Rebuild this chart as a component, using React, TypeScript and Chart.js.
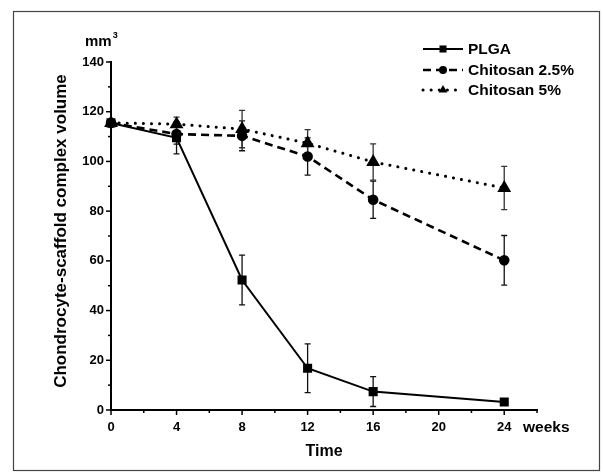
import React, { useEffect, useRef } from 'react';
import { Chart, registerables } from 'chart.js';

Chart.register(...registerables);

const weeks = [0, 4, 8, 12, 16, 24];
const seriesNames = ['PLGA', 'Chitosan 2.5%', 'Chitosan 5%'];
const plga = [115.5, 109.5, 52.3, 16.8, 7.4, 3.2];
const plgaErr = [0, 6.5, 10, 9.8, 6, 0];
const chi25 = [115.5, 111, 110.3, 102, 84.6, 60.2];
const chi25Err = [0, 4, 6, 7.5, 7.5, 10];
const chi5 = [115.5, 115, 113, 107.3, 99.8, 89.3];
const chi5Err = [0, 2.8, 7.5, 5.5, 7.3, 8.7];
const xTickLabels = [0, 4, 8, 12, 16, 20, 24];
const yTickLabels = [0, 20, 40, 60, 80, 100, 120, 140];
const xAxisTitle = 'Time';
const xUnit = 'weeks';
const yAxisTitle = 'Chondrocyte-scaffold complex volume';
const yUnit = 'mm';

const FONT = "'Liberation Sans', Arial, Helvetica, sans-serif";

function drawMarker(ctx: CanvasRenderingContext2D, style: string, x: number, y: number, r: number) {
  ctx.beginPath();
  if (style === 'rect') {
    const s = r * Math.SQRT1_2;
    ctx.rect(x - s, y - s, 2 * s, 2 * s);
  } else if (style === 'triangle') {
    let rad = 0;
    const t = (2 * Math.PI) / 3;
    ctx.moveTo(x + Math.sin(rad) * r, y - Math.cos(rad) * r);
    rad += t;
    ctx.lineTo(x + Math.sin(rad) * r, y - Math.cos(rad) * r);
    rad += t;
    ctx.lineTo(x + Math.sin(rad) * r, y - Math.cos(rad) * r);
    ctx.closePath();
  } else {
    ctx.arc(x, y, r, 0, Math.PI * 2);
  }
  ctx.fill();
}

const errors = [plgaErr, chi25Err, chi5Err];

const decorPlugin = {
  id: 'decor',
  beforeDatasetsDraw(chart: any) {
    const ctx = chart.ctx as CanvasRenderingContext2D;
    const xs = chart.scales.x;
    const ys = chart.scales.y;
    ctx.save();
    chart.data.datasets.forEach((ds: any, di: number) => {
      const err = errors[di];
      ctx.strokeStyle = di === 2 ? '#333' : '#111';
      ctx.lineWidth = 1.3;
      ds.data.forEach((p: any, i: number) => {
        const e = err[i];
        if (!e) return;
        const v = p.y;
        const x = xs.getPixelForValue(p.x);
        const yt = ys.getPixelForValue(v + e);
        const yb = ys.getPixelForValue(v - e);
        ctx.beginPath();
        ctx.moveTo(x, yt);
        ctx.lineTo(x, yb);
        ctx.moveTo(x - 3, yt);
        ctx.lineTo(x + 3, yt);
        ctx.moveTo(x - 3, yb);
        ctx.lineTo(x + 3, yb);
        ctx.stroke();
      });
    });
    ctx.restore();
  },
  afterDraw(chart: any) {
    const ctx = chart.ctx as CanvasRenderingContext2D;
    const xs = chart.scales.x;
    const ys = chart.scales.y;
    const area = chart.chartArea;
    ctx.save();
    ctx.strokeStyle = '#000';
    ctx.lineWidth = 1.5;
    for (let v = 0; v <= 26; v += 2) {
      const x = xs.getPixelForValue(v);
      const len = v % 4 === 0 ? 5 : 3;
      ctx.beginPath();
      ctx.moveTo(x, area.bottom);
      ctx.lineTo(x, area.bottom + len);
      ctx.stroke();
    }
    for (let v = 0; v <= 140; v += 10) {
      const y = ys.getPixelForValue(v);
      const len = v % 20 === 0 ? 5 : 3;
      ctx.beginPath();
      ctx.moveTo(area.left, y);
      ctx.lineTo(area.left - len, y);
      ctx.stroke();
    }
    ctx.fillStyle = '#000';
    ctx.font = `bold 15px ${FONT}`;
    ctx.textAlign = 'left';
    ctx.textBaseline = 'alphabetic';
    ctx.fillText(yUnit, 85, 46);
    const mw = ctx.measureText(yUnit).width;
    ctx.font = `bold 9px ${FONT}`;
    ctx.fillText('3', 85 + mw + 1, 38);
    ctx.font = `bold 15.5px ${FONT}`;
    ctx.textBaseline = 'middle';
    ctx.fillText(xUnit, 523, area.bottom + 18);
    ctx.font = `bold 16px ${FONT}`;
    ctx.textAlign = 'center';
    ctx.fillText(xAxisTitle, (area.left + area.right) / 2, 452);
    ctx.save();
    ctx.translate(61, 231);
    ctx.rotate(-Math.PI / 2);
    ctx.font = `bold 17px ${FONT}`;
    ctx.fillText(yAxisTitle, 0, 0);
    ctx.restore();
    const rows = [49, 70, 90];
    chart.data.datasets.forEach((ds: any, i: number) => {
      const y = rows[i];
      ctx.save();
      ctx.strokeStyle = '#000';
      ctx.lineWidth = ds.borderWidth;
      ctx.setLineDash(ds.borderDash || []);
      ctx.lineCap = ds.borderCapStyle || 'butt';
      ctx.beginPath();
      ctx.moveTo(423, y);
      ctx.lineTo(463, y);
      ctx.stroke();
      ctx.restore();
      ctx.fillStyle = '#000';
      drawMarker(ctx, ds.pointStyle, 443, y, ds.pointRadius);
      ctx.font = `bold 15.5px ${FONT}`;
      ctx.textAlign = 'left';
      ctx.textBaseline = 'middle';
      ctx.fillText(ds.label, 468, y + 1);
    });
    ctx.strokeStyle = '#444';
    ctx.lineWidth = 1.2;
    ctx.strokeRect(13.5, 11.5, 586, 459);
    ctx.restore();
  },
};

export default function App() {
  const ref = useRef<HTMLCanvasElement | null>(null);
  useEffect(() => {
    if (!ref.current) return;
    const mk = (vals: number[]) => vals.map((v, i) => ({ x: weeks[i], y: v }));
    const chart = new Chart(ref.current, {
      type: 'line',
      data: {
        datasets: [
          {
            label: seriesNames[0],
            data: mk(plga),
            borderColor: '#000',
            backgroundColor: '#000',
            borderWidth: 2,
            pointStyle: 'rect',
            pointRadius: 5,
            pointHoverRadius: 5,
            clip: false,
          } as any,
          {
            label: seriesNames[1],
            data: mk(chi25),
            borderColor: '#000',
            backgroundColor: '#000',
            borderWidth: 2.6,
            borderDash: [8, 5],
            pointStyle: 'circle',
            pointRadius: 4,
            pointHoverRadius: 4,
            clip: false,
          } as any,
          {
            label: seriesNames[2],
            data: mk(chi5),
            borderColor: '#000',
            backgroundColor: '#000',
            borderWidth: 3,
            borderDash: [0.1, 8],
            borderCapStyle: 'round',
            pointStyle: 'triangle',
            pointRadius: 5,
            pointHoverRadius: 5,
            clip: false,
          } as any,
        ],
      },
      options: {
        animation: false,
        responsive: false,
        events: [],
        layout: { padding: { left: 0, top: 62, right: 66, bottom: 0 } },
        plugins: { legend: { display: false }, tooltip: { enabled: false }, title: { display: false } },
        scales: {
          x: {
            type: 'linear',
            min: 0,
            max: 26,
            afterFit: (s: any) => { s.height = 62; },
            afterBuildTicks: (s: any) => { s.ticks = xTickLabels.map((v) => ({ value: v })); },
            grid: { display: true, drawOnChartArea: false, drawTicks: false },
            border: { display: true, color: '#000', width: 2 },
            ticks: {
              color: '#000',
              font: { family: FONT, size: 13, weight: 'bold' },
              padding: 10,
              autoSkip: false,
              maxRotation: 0,
              callback: (v: any) => String(v),
            },
          },
          y: {
            type: 'linear',
            min: 0,
            max: 140,
            afterFit: (s: any) => { s.width = 111; },
            afterBuildTicks: (s: any) => { s.ticks = yTickLabels.map((v) => ({ value: v })); },
            grid: { display: true, drawOnChartArea: false, drawTicks: false },
            border: { display: true, color: '#000', width: 2 },
            ticks: {
              color: '#000',
              font: { family: FONT, size: 13, weight: 'bold' },
              padding: 7,
              autoSkip: false,
              callback: (v: any) => String(v),
            },
          },
        },
      } as any,
      plugins: [decorPlugin],
    });
    return () => chart.destroy();
  }, []);
  return (
    <div style={{ position: 'absolute', left: 0, top: 0, width: 603, height: 472, background: '#fff' }}>
      <canvas ref={ref} width={603} height={472} style={{ width: 603, height: 472, display: 'block' }} />
    </div>
  );
}
